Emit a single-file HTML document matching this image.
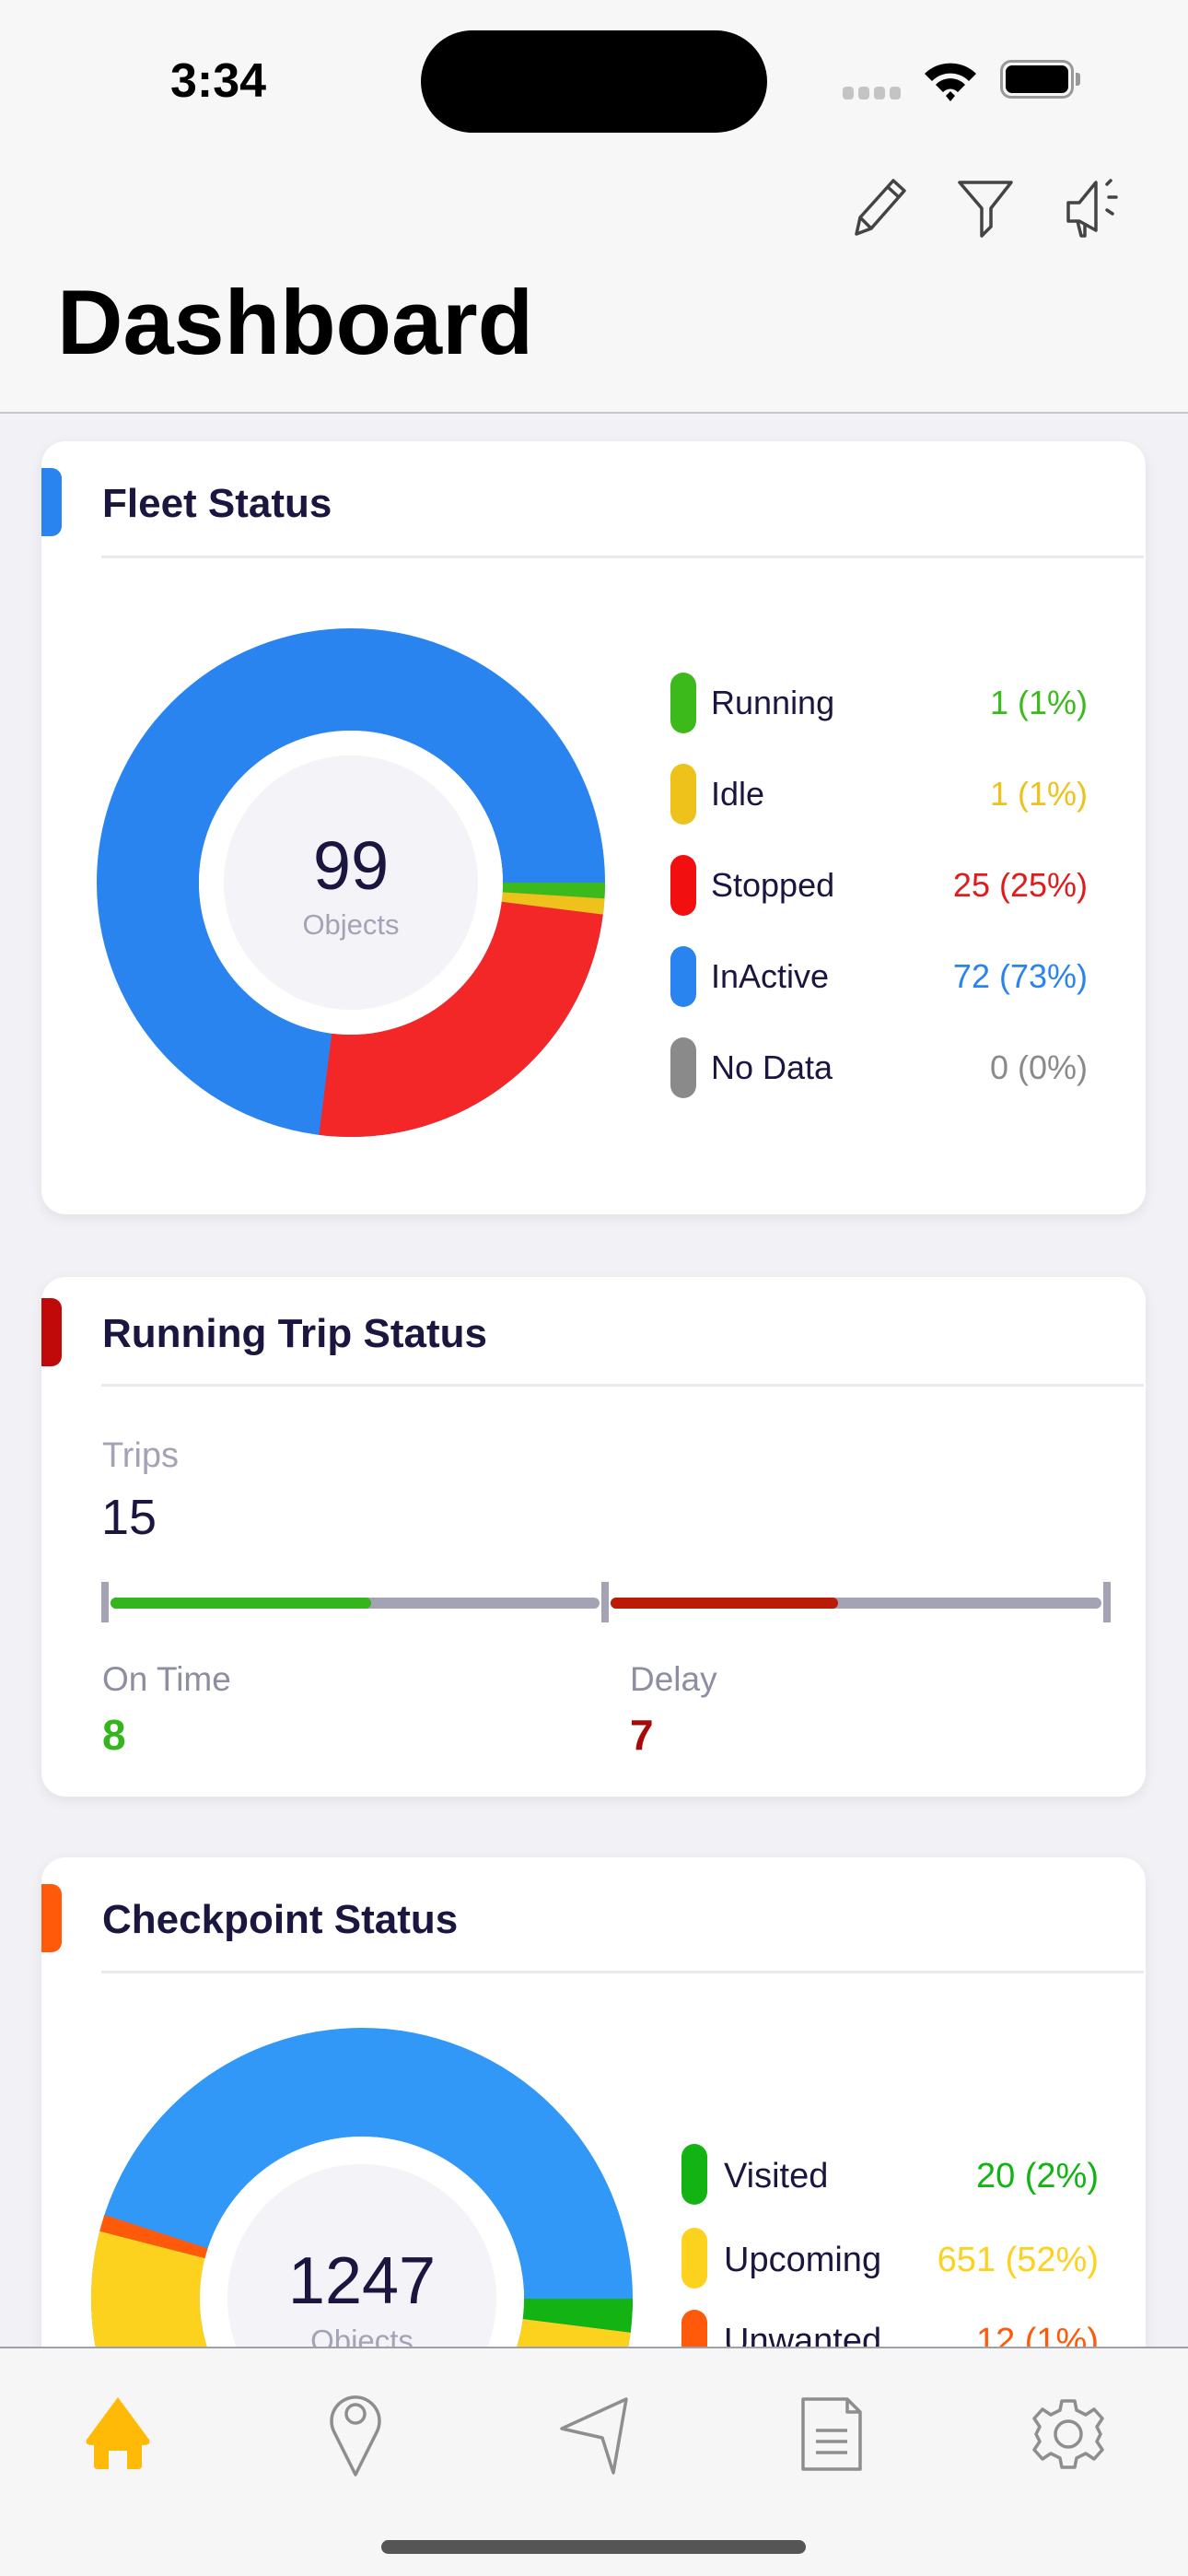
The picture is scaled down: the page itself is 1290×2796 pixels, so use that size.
<!DOCTYPE html>
<html><head><meta charset="utf-8"><style>
*{margin:0;padding:0;box-sizing:border-box}
body{width:1290px;height:2796px;position:relative;overflow:hidden;background:#f1f1f6;font-family:"Liberation Sans",sans-serif}
.a{position:absolute}
.hdr{left:0;top:0;width:1290px;height:449px;background:#f7f7f7;border-bottom:2px solid #c8c8cc}
.card{background:#fff;border-radius:26px;box-shadow:0 4px 14px rgba(0,0,0,0.07);left:45px;width:1199px}
.acc{left:45px;width:22px;border-radius:0 11px 11px 0}
.title{left:111px;font-size:44px;font-weight:bold;color:#1b1640;line-height:1}
.div{left:110px;width:1132px;height:3px;background:#e9e9ee}
.pill{width:28px;border-radius:14px}
.lab{font-size:36px;color:#1b1640;line-height:1}
.val{font-size:36px;line-height:1;text-align:right;width:300px}
</style></head><body>
<div class="a hdr"></div>
<div class="a" style="left:185px;top:62px;font-size:52px;font-weight:bold;color:#000;line-height:1">3:34</div>
<div class="a" style="left:457px;top:33px;width:376px;height:111px;border-radius:56px;background:#000"></div>
<div class="a" style="left:915px;top:94px;width:12px;height:14px;border-radius:4px;background:#c4c4c4"></div>
<div class="a" style="left:932px;top:94px;width:12px;height:14px;border-radius:4px;background:#c4c4c4"></div>
<div class="a" style="left:949px;top:94px;width:12px;height:14px;border-radius:4px;background:#c4c4c4"></div>
<div class="a" style="left:966px;top:94px;width:12px;height:14px;border-radius:4px;background:#c4c4c4"></div>
<svg class="a" style="left:1000px;top:62px" width="64" height="50" viewBox="0 0 64 50"><path d="M4 18 A40 40 0 0 1 60 18 L52 26 A28 28 0 0 0 12 26Z M16 30 A22 22 0 0 1 48 30 L40 38 A11 11 0 0 0 24 38Z M27 42 L32 37 L37 42 L32 48Z" fill="#000"/></svg>
<div class="a" style="left:1086px;top:65px;width:80px;height:42px;border:3px solid #999;border-radius:12px"></div>
<div class="a" style="left:1092px;top:71px;width:68px;height:30px;border-radius:7px;background:#000"></div>
<div class="a" style="left:1168px;top:79px;width:5px;height:14px;border-radius:0 3px 3px 0;background:#999"></div>
<svg class="a" style="left:920px;top:190px" width="300" height="72" viewBox="0 0 300 72">
<g fill="none" stroke="#444" stroke-width="3.5" stroke-linejoin="round">
<path d="M10 64 L14 46 L50 6 L62 17 L26 58 Z M14 46 L26 58 M44 13 L56 24"/>
<path d="M122 8 L178 8 L156 36 L156 56 L146 66 L146 36 Z"/>
<path d="M240 36 L240 50 L252 50 L270 60 L270 8 L252 30 L240 30 Z M250 50 L254 66 L258 66 L258 52"/>
<path d="M282 10 L286 6 M284 24 L292 24 M282 38 L288 42" stroke-linecap="round"/>
</g></svg>
<div class="a" style="left:62px;top:300px;font-size:99px;font-weight:bold;color:#000;line-height:1">Dashboard</div>

<!-- Fleet card -->
<div class="a card" style="top:479px;height:839px"></div>
<div class="a acc" style="top:508px;height:74px;background:#2a84ef"></div>
<div class="a title" style="top:525px">Fleet Status</div>
<div class="a div" style="top:603px"></div>
<svg class="a" style="left:0;top:0" width="1290" height="1400">
<g transform="translate(381,958)" fill="none" stroke-width="111">
<circle r="220.5" stroke="#2a84ef"/>
<circle r="220.5" stroke="#f32727" stroke-dasharray="346.4 2000" stroke-dashoffset="-27.7"/>
<circle r="220.5" stroke="#3cba1c" stroke-dasharray="13.9 2000" stroke-dashoffset="0"/>
<circle r="220.5" stroke="#eec21a" stroke-dasharray="13.9 2000" stroke-dashoffset="-13.9"/>
</g>
<circle cx="381" cy="958" r="165" fill="#fff"/>
<circle cx="381" cy="958" r="138" fill="#f3f3f8"/>
<text x="381" y="965" text-anchor="middle" font-family="Liberation Sans" font-size="74" fill="#1b1640">99</text>
<text x="381" y="1014" text-anchor="middle" font-family="Liberation Sans" font-size="31" fill="#a3a3b5">Objects</text>
</svg>
<div class="a pill" style="left:728px;top:730px;height:66px;background:#3cba1c"></div>
<div class="a pill" style="left:728px;top:829px;height:66px;background:#eec21a"></div>
<div class="a pill" style="left:728px;top:928px;height:66px;background:#f20f0f"></div>
<div class="a pill" style="left:728px;top:1027px;height:66px;background:#2a84ef"></div>
<div class="a pill" style="left:728px;top:1126px;height:66px;background:#8a8a8a"></div>
<div class="a lab" style="left:772px;top:745px">Running</div>
<div class="a lab" style="left:772px;top:844px">Idle</div>
<div class="a lab" style="left:772px;top:943px">Stopped</div>
<div class="a lab" style="left:772px;top:1042px">InActive</div>
<div class="a lab" style="left:772px;top:1141px">No Data</div>
<div class="a val" style="left:881px;top:745px;color:#3cba1c">1 (1%)</div>
<div class="a val" style="left:881px;top:844px;color:#eec21a">1 (1%)</div>
<div class="a val" style="left:881px;top:943px;color:#e01b1b">25 (25%)</div>
<div class="a val" style="left:881px;top:1042px;color:#2a84ef">72 (73%)</div>
<div class="a val" style="left:881px;top:1141px;color:#8a8a8a">0 (0%)</div>

<!-- Running trip card -->
<div class="a card" style="top:1386px;height:564px"></div>
<div class="a acc" style="top:1409px;height:74px;background:#c00a0a"></div>
<div class="a title" style="top:1426px">Running Trip Status</div>
<div class="a div" style="top:1502px"></div>
<div class="a" style="left:111px;top:1561px;font-size:38px;color:#a3a3b5;line-height:1">Trips</div>
<div class="a" style="left:110px;top:1620px;font-size:54px;color:#1b1640;line-height:1">15</div>
<div class="a" style="left:110px;top:1717px;width:8px;height:44px;background:#a3a3b5"></div>
<div class="a" style="left:653px;top:1717px;width:8px;height:44px;background:#a3a3b5"></div>
<div class="a" style="left:1198px;top:1717px;width:8px;height:44px;background:#a3a3b5"></div>
<div class="a" style="left:120px;top:1734px;width:531px;height:12px;border-radius:6px;background:#a3a3b5"></div>
<div class="a" style="left:120px;top:1734px;width:283px;height:12px;border-radius:6px;background:#35b51c"></div>
<div class="a" style="left:663px;top:1734px;width:533px;height:12px;border-radius:6px;background:#a3a3b5"></div>
<div class="a" style="left:663px;top:1734px;width:247px;height:12px;border-radius:6px;background:#bb1a04"></div>
<div class="a" style="left:111px;top:1804px;font-size:37px;color:#8e8ea2;line-height:1">On Time</div>
<div class="a" style="left:684px;top:1804px;font-size:37px;color:#8e8ea2;line-height:1">Delay</div>
<div class="a" style="left:111px;top:1860px;font-size:46px;font-weight:bold;color:#35b51c;line-height:1">8</div>
<div class="a" style="left:684px;top:1860px;font-size:46px;font-weight:bold;color:#a80a0a;line-height:1">7</div>

<!-- Checkpoint card -->
<div class="a card" style="top:2016px;height:700px"></div>
<div class="a acc" style="top:2045px;height:74px;background:#ff5a0a"></div>
<div class="a title" style="top:2062px">Checkpoint Status</div>
<div class="a div" style="top:2139px"></div>
<svg class="a" style="left:0;top:0" width="1290" height="2796">
<g transform="translate(393,2495)" fill="none" stroke-width="118">
<circle r="235" stroke="#3198f8"/>
<circle r="235" stroke="#fdd21e" stroke-dasharray="767.8 3000" stroke-dashoffset="-29.5"/>
<circle r="235" stroke="#12b312" stroke-dasharray="29.5 3000" stroke-dashoffset="0"/>
<circle r="235" stroke="#ff5a0a" stroke-dasharray="14.8 3000" stroke-dashoffset="-797.3"/>
</g>
<circle cx="393" cy="2495" r="176" fill="#fff"/>
<circle cx="393" cy="2495" r="146" fill="#f3f3f8"/>
<text x="393" y="2500" text-anchor="middle" font-family="Liberation Sans" font-size="72" fill="#1b1640">1247</text>
<text x="393" y="2552" text-anchor="middle" font-family="Liberation Sans" font-size="33" fill="#a3a3b5">Objects</text>
</svg>
<div class="a pill" style="left:740px;top:2327px;height:66px;background:#12b312"></div>
<div class="a pill" style="left:740px;top:2418px;height:66px;background:#fdd21e"></div>
<div class="a pill" style="left:740px;top:2507px;height:66px;background:#ff5a0a"></div>
<div class="a lab" style="left:786px;top:2343px;font-size:38px">Visited</div>
<div class="a lab" style="left:786px;top:2434px;font-size:38px">Upcoming</div>
<div class="a lab" style="left:786px;top:2522px;font-size:38px">Unwanted</div>
<div class="a val" style="left:893px;top:2343px;color:#12b312;font-size:38px">20 (2%)</div>
<div class="a val" style="left:893px;top:2434px;color:#fdd21e;font-size:38px">651 (52%)</div>
<div class="a val" style="left:893px;top:2522px;color:#ff5a0a;font-size:38px">12 (1%)</div>

<!-- tab bar -->
<div class="a" style="left:0;top:2547px;width:1290px;height:249px;background:#f6f6f6;border-top:2px solid #a0a0a8"></div>
<svg class="a" style="left:0;top:2590px" width="1290" height="100" viewBox="0 0 1290 100">
<path d="M128 12 L94 58 Q92 64 100 64 L102 64 L102 86 Q102 90 106 90 L118 90 L118 70 L138 70 L138 90 L150 90 Q154 90 154 86 L154 64 L156 64 Q164 64 162 58 Z" fill="#ffba08"/>
<g fill="none" stroke="#8e8e8e" stroke-width="3.5" stroke-linejoin="round">
<path d="M386 96 L363 50 A26 26 0 1 1 409 50 Z"/><circle cx="386" cy="30" r="10"/>
<path d="M610 46 L680 14 L666 94 L654 56 Z"/>
<path d="M872 14 L920 14 L934 28 L934 90 L872 90 Z M920 14 L920 28 L934 28 M886 48 L920 48 M886 60 L920 60 M886 72 L920 72"/>
<circle cx="1160" cy="52" r="14"/>
<path d="M1153 16 L1167 16 L1169 26 L1179 31 L1188 25 L1197 35 L1191 44 L1195 52 L1191 60 L1197 69 L1188 79 L1179 73 L1169 78 L1167 88 L1153 88 L1151 78 L1141 73 L1132 79 L1123 69 L1129 60 L1125 52 L1129 44 L1123 35 L1132 25 L1141 31 L1151 26 Z"/>
</g></svg>
<div class="a" style="left:414px;top:2757px;width:461px;height:15px;border-radius:8px;background:#555"></div>
</body></html>
